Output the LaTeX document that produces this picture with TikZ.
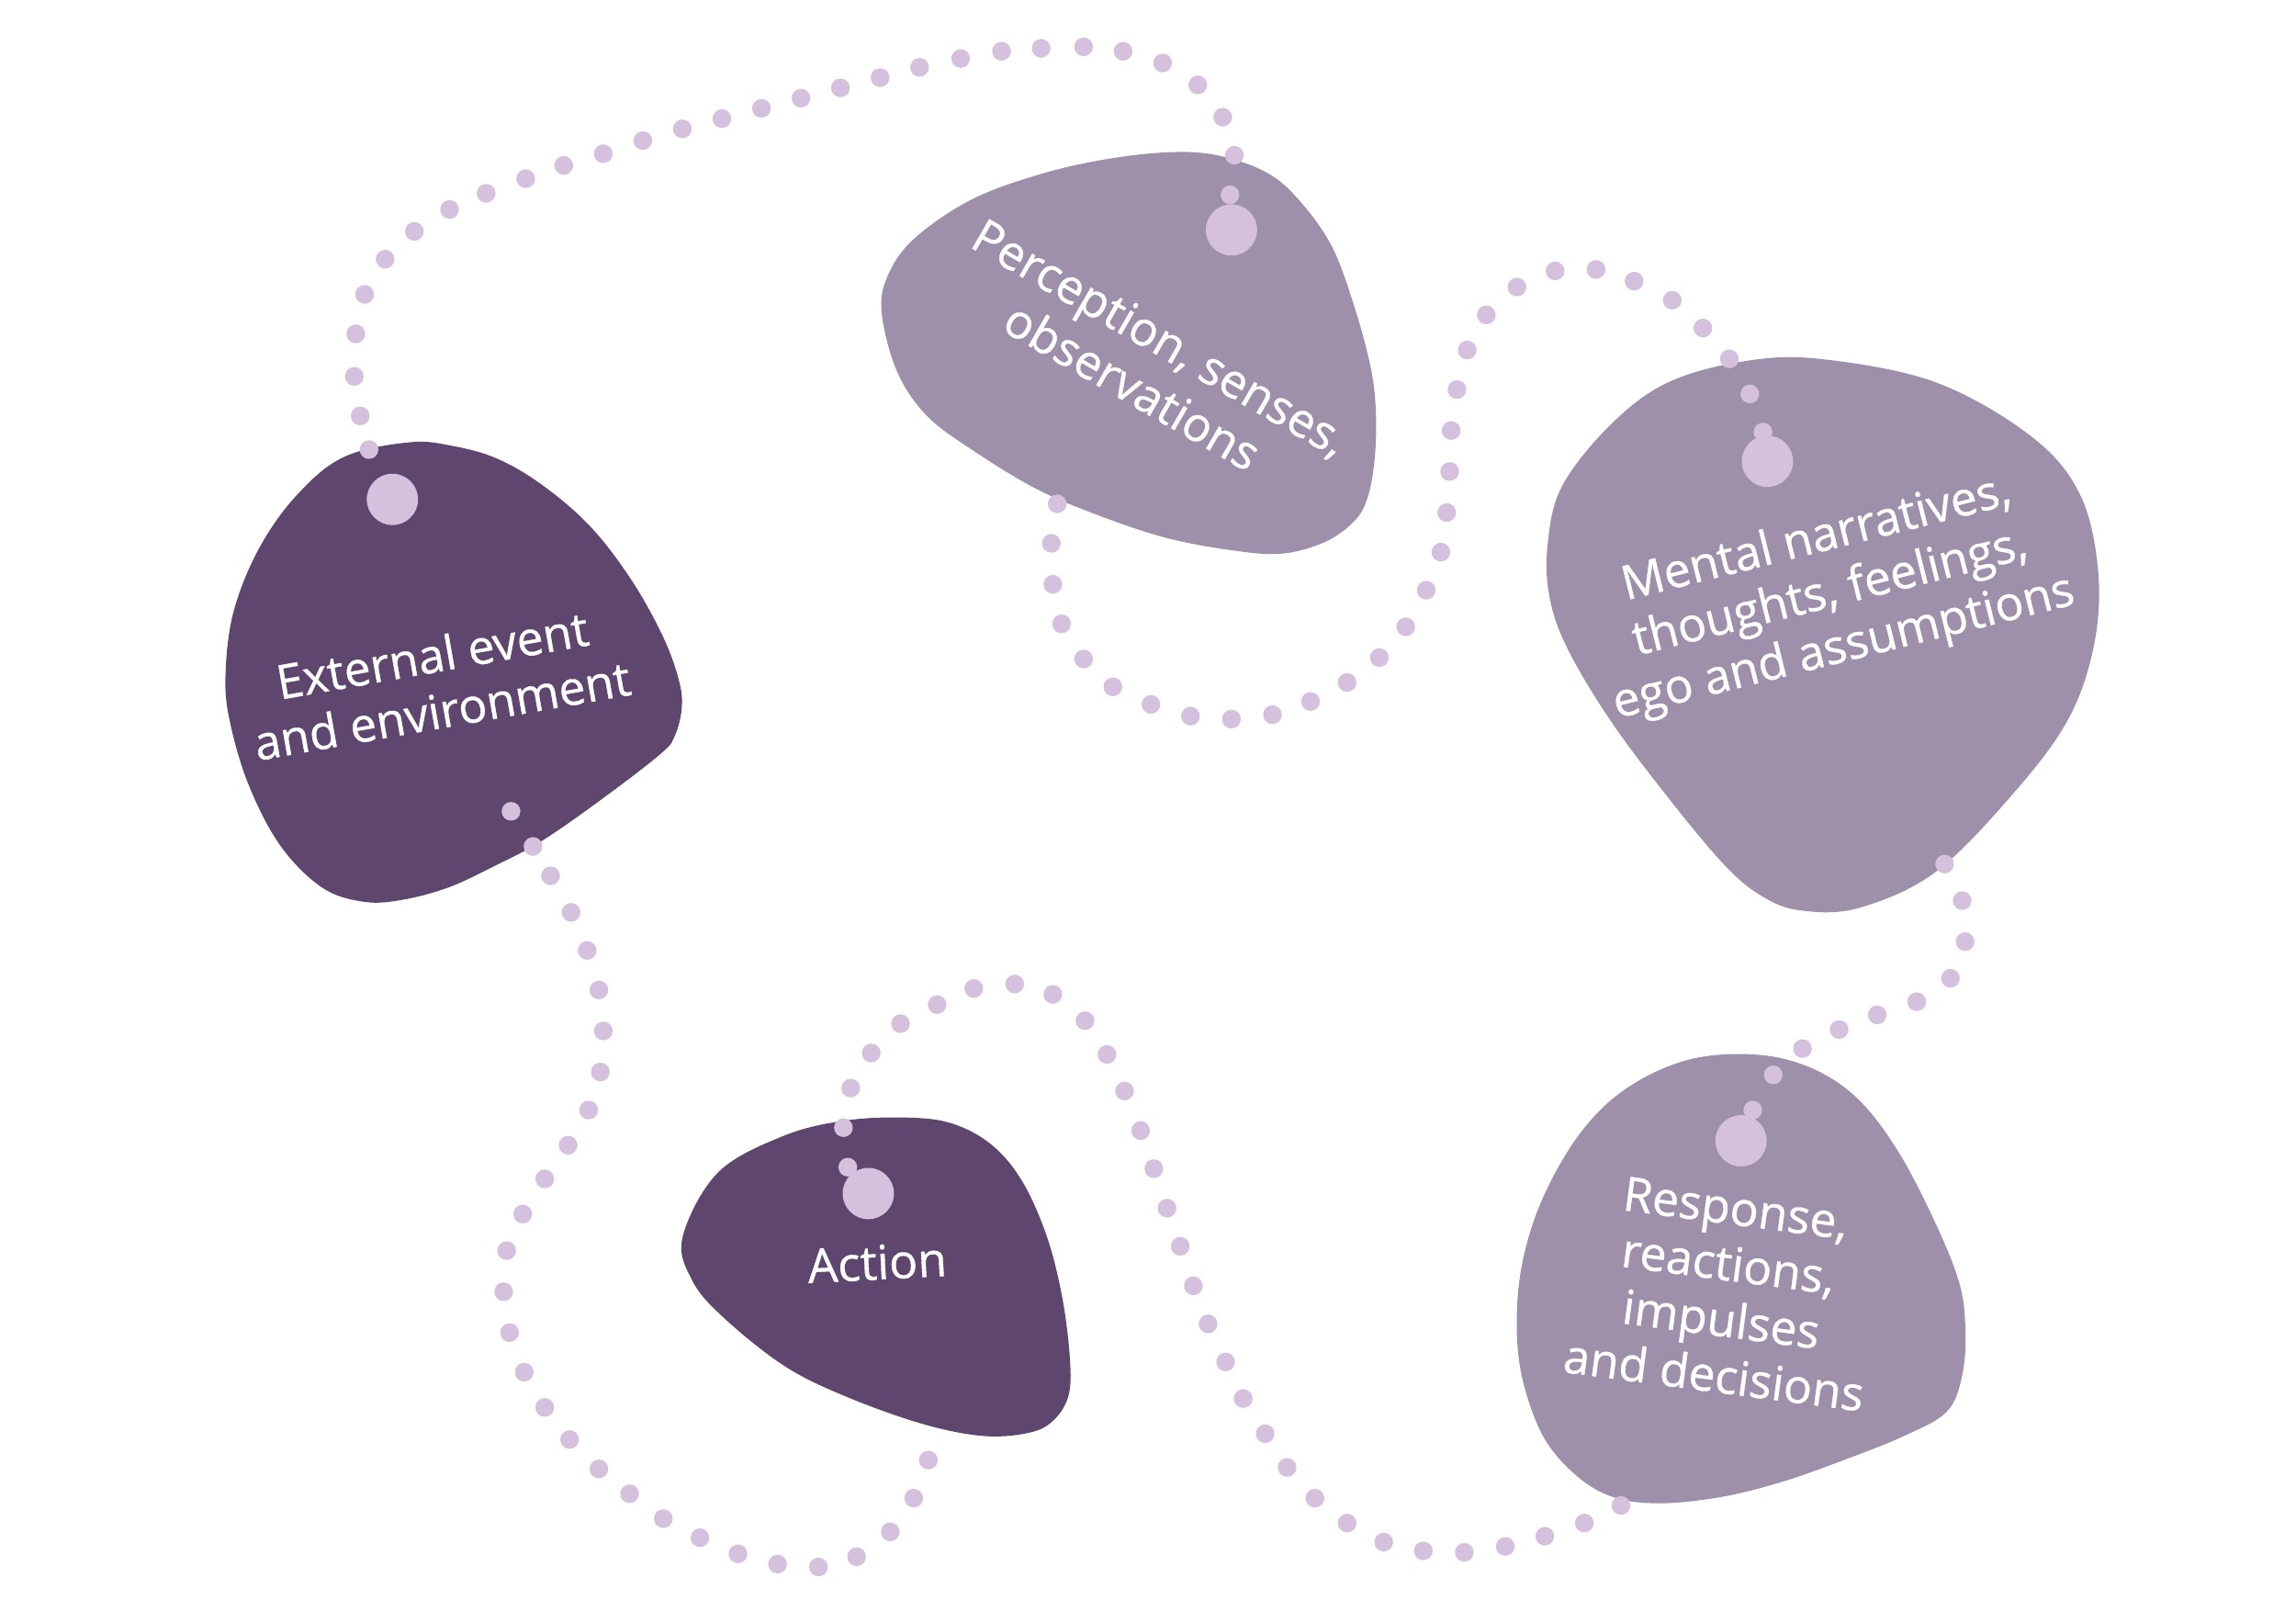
\documentclass[tikz,border=0pt]{standalone}
\usepackage{fontspec}
\setmainfont{Open Sans}
\newfontfamily\labelfont{Open Sans}[FakeBold=0.7]
\definecolor{darkblob}{HTML}{5E466E}
\definecolor{lightblob}{HTML}{9E8FAA}
\definecolor{dotcol}{HTML}{D5C0DE}
\begin{document}
\begin{tikzpicture}[x=0.015944cm, y=-0.015944cm,
  blobdark/.style={fill=darkblob},
  bloblight/.style={fill=lightblob},
  blabel/.style={text=white, font=\labelfont\fontsize{14.7}{17.4}\selectfont, align=center, inner sep=0pt},
  pathdot/.style={fill=dotcol},
  hubdot/.style={circle, fill=dotcol, minimum size=15.9pt, inner sep=0pt},
  nubdot/.style={circle, fill=dotcol, minimum size=5.8pt, inner sep=0pt}]
\useasboundingbox[fill=white] (0,0) rectangle (1568,1108);

% blobs
\fill[blobdark] plot[smooth cycle, tension=0.6] coordinates {
 (280,302) (310,304.7) (340,313.4) (371.0,331.7) (403.4,359.8) (431.5,396.5)
 (453.1,435.4) (463.9,465.6) (465.5,484) (461,502) (452,514) (414.2,543.3)
 (371.0,573.6) (338.6,590.9) (306.2,606.0) (273.8,614.6) (247.9,615.7) (219.9,606.0)
 (191.8,577.9) (170.2,536.9) (157.2,493.7) (154.0,461.3) (159.4,418.1) (176.7,374.9)
 (202.6,338.2) (235,312)};
\fill[bloblight] plot[smooth cycle, tension=0.6] coordinates {
 (602.0,212) (607.3,186) (625.4,162) (663.0,136.5) (707.9,119.7) (752.6,109.2)
 (797.4,104) (831.0,106) (864.6,117.6) (887.0,136.5) (909.4,168) (925.1,210)
 (936.3,252) (939.7,283.5) (938.6,315) (933.8,340.3) (924.7,356) (905.0,370)
 (875.8,378) (842.2,375.9) (797.4,367.5) (752.6,352.8) (707.9,333.9) (663.0,306.6)
 (632.4,283.3) (612.3,252.9)};
\fill[bloblight] plot[smooth cycle, tension=0.6] coordinates {
 (1056.9,372.1) (1066.7,332.1) (1099.9,290.0) (1138.8,261.3) (1190.9,246.7) (1242.9,245.1)
 (1320.9,260.7) (1385.9,297.0) (1419.7,336.1) (1432.7,388.1) (1430.1,440.1) (1411.9,492.1)
 (1372.9,544.1) (1320.9,596.1) (1268.9,620.1) (1229.9,621.7) (1203.9,612.3) (1177.9,590.9)
 (1138.8,544.1) (1099.9,492.1) (1070.7,443.3) (1058.3,408.1)};
\fill[bloblight] plot[smooth cycle, tension=0.6] coordinates {
 (1200.0,720.2) (1237.7,729.6) (1269.0,750.6) (1296.2,786.1) (1321.3,834.2) (1338.0,876.0)
 (1342.2,907.4) (1340.1,938.7) (1329.6,963.8) (1300.4,980.5) (1258.6,997.2) (1216.8,1011.9)
 (1174.9,1022.3) (1133.1,1026.5) (1101.8,1022.3) (1076.7,1007.7) (1053.7,980.5) (1039.1,938.7)
 (1035.9,896.9) (1041.2,855.1) (1055.8,813.3) (1080.9,771.5) (1112.2,742.2) (1154.0,723.4)};
\fill[blobdark] plot[smooth cycle, tension=0.6] coordinates {
 (466.2,844.6) (490.4,800.6) (535.2,775.6) (577.0,765.2) (618.8,763.1) (650.2,767.2)
 (677.4,781.9) (698.3,807.0) (715.0,844.6) (725.5,886.4) (730.7,928.3) (729.6,953.3)
 (719.2,970.1) (702.5,978.4) (671.1,980.5) (629.3,972.1) (577.0,953.3) (535.2,932.4)
 (493.4,899.0) (472.5,873.9)};

% dotted connectors
\foreach \p in {(252,307),(246,284),(242,257),(243,228),(249,201),(263,177),(283,158),(307,143),
 (332,132),(359,122),(385,113),(412,105),(439,96),(466,88),(493,81),(520,74),(547,67),(574,60),
 (601,53),(628,46),(656,40),(684,35),(711,33),(740,32),(767,35),(794,43),(818,58),(835,80),(843,106)}
  \fill[pathdot] \p circle[radius=2.9pt];
\foreach \p in {(722,344),(718,371),(719,399),(725,426),(740,450),(760,469),(786,481),(813,489),
 (841,491),(869,488),(895,479),(920,466),(942,449),(960,428),(974,403),(984,377),(988,350),
 (990,322),(991,294),(995,266),(1002,239),(1015,215),(1036,196),(1062,185),(1090,184),(1116,192),
 (1142,205),(1163,224),(1181,245),(1195,269)}
  \fill[pathdot] \p circle[radius=2.9pt];
\foreach \p in {(1328,590),(1340,615),(1342,643),(1332,668),(1309,684),(1282,693),(1256,703),
 (1231,716),(1211,734)}
  \fill[pathdot] \p circle[radius=2.9pt];
\foreach \p in {(1107,1028),(1082,1040),(1055,1049),(1028,1056),(1000,1060),(972,1059),(945,1053),
 (920,1040),(898,1023),(879,1002),(864,979),(849,955),(837,930),(825,904),(815,878),(806,851),
 (797,825),(788,798),(779,772),(768,745),(756,720),(741,697),(719,679),(693,672),(665,675),
 (640,686),(615,699),(595,719),(581,743),(576,770)}
  \fill[pathdot] \p circle[radius=2.9pt];
\foreach \p in {(349,554),(364,578),(376,598),(390,623),(401,649),(409,676),(412,704),(410,732),
 (402,758),(388,782),(372,805),(357,829),(346,854),(344,882),(348,910),(358,937),(372,961),
 (389,983),(409,1003),(430,1020),(453,1037),(478,1050),(504,1061),(531,1068),(559,1070),
 (585,1063),(608,1046),(624,1023),(634,997)}
  \fill[pathdot] \p circle[radius=2.9pt];

% hub dots
\node[hubdot] (hubext) at (268,341) {};
\node[nubdot] (nubperc) at (840,133) {};
\node[hubdot] (hubperc) at (841,157) {};
\node[nubdot] (nubment) at (1204,295) {};
\node[hubdot] (hubment) at (1207,315) {};
\node[nubdot] (nubresp) at (1197,758) {};
\node[hubdot] (hubresp) at (1189,779) {};
\node[nubdot] (nubact) at (579,797) {};
\node[hubdot] (hubact) at (593,815) {};

% labels
\node[blabel, rotate=10] (ext) at (298.5,466) {External event\\and environment};
\node[blabel, rotate=-30] (perc) at (783,247) {Perception, senses,\\observations};
\node[blabel, rotate=14] (ment) at (1250,406) {Mental narratives,\\thoughts, feelings,\\ego and assumptions};
\node[blabel, rotate=-7.5] (resp) at (1178,882) {Response,\\reactions,\\impulses\\and decisions};
\node[blabel, rotate=3] (act) at (599,862) {Action};
\end{tikzpicture}
\end{document}
